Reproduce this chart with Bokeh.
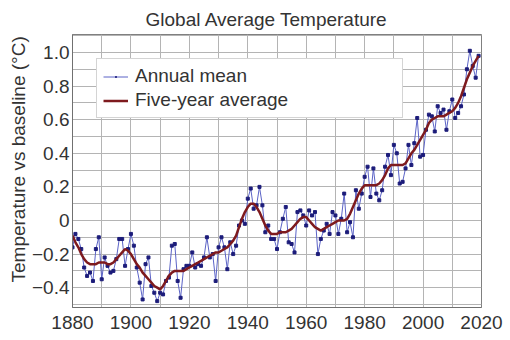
from bokeh.plotting import figure
from bokeh.models import (Range1d, FixedTicker, SingleIntervalTicker, Legend, LegendItem, Title)
from bokeh.embed import file_html
from bokeh.resources import INLINE

# ---- data ----
years = list(range(1880, 2020))

annual_mean = [
    -0.16, -0.08, -0.11, -0.17, -0.28, -0.33, -0.31, -0.36, -0.17, -0.10,
    -0.35, -0.22, -0.27, -0.31, -0.30, -0.23, -0.11, -0.11, -0.27, -0.17,
    -0.08, -0.15, -0.28, -0.37, -0.47, -0.26, -0.22, -0.39, -0.43, -0.48,
    -0.43, -0.44, -0.36, -0.34, -0.15, -0.14, -0.36, -0.46, -0.29, -0.27,
    -0.27, -0.19, -0.28, -0.26, -0.27, -0.22, -0.10, -0.22, -0.20, -0.36,
    -0.16, -0.10, -0.16, -0.29, -0.13, -0.20, -0.15, -0.03, -0.00, -0.02,
    0.13, 0.19, 0.07, 0.09, 0.20, 0.09, -0.07, -0.03, -0.11, -0.11,
    -0.17, -0.07, 0.01, 0.08, -0.13, -0.14, -0.19, 0.05, 0.06, 0.03,
    -0.03, 0.06, 0.03, 0.05, -0.20, -0.11, -0.06, -0.02, -0.08, 0.05,
    0.03, -0.08, 0.01, 0.16, -0.07, -0.01, -0.10, 0.18, 0.07, 0.16,
    0.26, 0.32, 0.14, 0.31, 0.16, 0.12, 0.18, 0.32, 0.39, 0.27,
    0.45, 0.40, 0.22, 0.23, 0.31, 0.45, 0.33, 0.46, 0.61, 0.38,
    0.39, 0.54, 0.63, 0.62, 0.53, 0.68, 0.64, 0.66, 0.54, 0.65,
    0.72, 0.61, 0.64, 0.68, 0.75, 0.90, 1.01, 0.92, 0.85, 0.98,
]

five_year_avg = [
    -0.09, -0.13, -0.16, -0.20, -0.23, -0.25, -0.26, -0.26, -0.26, -0.25,
    -0.25, -0.25, -0.26, -0.26, -0.25, -0.23, -0.21, -0.19, -0.17, -0.18,
    -0.20, -0.23, -0.26, -0.28, -0.31, -0.33, -0.35, -0.37, -0.39, -0.40,
    -0.41, -0.39, -0.36, -0.33, -0.31, -0.30, -0.30, -0.30, -0.30, -0.29,
    -0.28, -0.27, -0.26, -0.25, -0.24, -0.23, -0.22, -0.21, -0.20, -0.19,
    -0.19, -0.18, -0.17, -0.16, -0.14, -0.12, -0.09, -0.04, 0.01, 0.05,
    0.08, 0.10, 0.10, 0.08, 0.05, 0.01, -0.03, -0.06, -0.08, -0.08,
    -0.08, -0.07, -0.07, -0.07, -0.06, -0.05, -0.03, -0.01, 0.01, 0.02,
    0.02, 0.00, -0.02, -0.04, -0.05, -0.06, -0.05, -0.04, -0.03, -0.02,
    -0.01, 0.00, 0.00, 0.00, 0.01, 0.04, 0.08, 0.12, 0.16, 0.19,
    0.21, 0.21, 0.21, 0.21, 0.21, 0.22, 0.24, 0.27, 0.31, 0.33,
    0.33, 0.33, 0.33, 0.33, 0.34, 0.37, 0.40, 0.42, 0.45, 0.48,
    0.51, 0.54, 0.58, 0.60, 0.61, 0.62, 0.62, 0.62, 0.63, 0.64,
    0.65, 0.67, 0.70, 0.74, 0.79, 0.84, 0.88, 0.92, 0.95, 0.98,
]

x_ticks = [1880, 1900, 1920, 1940, 1960, 1980, 2000, 2020]
y_ticks = [-0.4, -0.2, 0.0, 0.2, 0.4, 0.6, 0.8, 1.0]
y_tick_labels = ["\u22120.4", "\u22120.2", "0", "0.2", "0.4", "0.6", "0.8", "1.0"]

FONT = "Liberation Sans"
TEXT = "#333333"
BLUE_LINE = "#5b63c6"
BLUE_DOT = "#1c1c7a"
RED = "#7e1a1e"

p = figure(width=510, height=340, output_backend="svg", toolbar_location=None,
           x_range=Range1d(1880, 2020), y_range=Range1d(-0.518, 1.107),
           min_border_left=72, min_border_right=29, min_border_top=34, min_border_bottom=33,
           background_fill_color="white", border_fill_color="white",
           outline_line_color="#808080", outline_line_width=1)

p.title = Title(text="Global Average Temperature", align="left", offset=73,
                vertical_align="top",
                text_font=FONT, text_font_size="19px", text_font_style="normal",
                text_color=TEXT, standoff=6)

# grid: every 10 years, every 0.1 degrees
p.xgrid.ticker = SingleIntervalTicker(interval=10)
p.ygrid.ticker = SingleIntervalTicker(interval=0.1)
for g in (p.xgrid, p.ygrid):
    g.grid_line_color = "#b4b4b4"
    g.grid_line_width = 1

p.xaxis.ticker = FixedTicker(ticks=x_ticks)
p.yaxis.ticker = FixedTicker(ticks=y_ticks)
p.yaxis.major_label_overrides = {t: l for t, l in zip(y_ticks, y_tick_labels)}
for ax in (p.xaxis, p.yaxis):
    ax.axis_line_color = "#707070"
    ax.major_tick_line_color = None
    ax.minor_tick_line_color = None
    ax.major_tick_out = 0
    ax.major_tick_in = 0
    ax.major_label_text_font = FONT
    ax.major_label_text_font_size = "19px"
    ax.major_label_text_color = TEXT
p.xaxis.major_label_standoff = 8
p.yaxis.major_label_standoff = 3

p.add_layout(Title(text="Temperature vs baseline (\u00b0C)", align="left", offset=25,
                   text_font=FONT, text_font_size="19px", text_font_style="normal",
                   text_color=TEXT, standoff=0), "left")

annual_line = p.line(years, annual_mean, line_color=BLUE_LINE, line_width=1)
# tiny centre dots (hidden under the squares in the plot, used as legend swatch)
annual_dot = p.scatter(years, annual_mean, marker="dot", size=3,
                       fill_color=BLUE_DOT, line_color=BLUE_DOT, line_width=1.5)
p.scatter(years, annual_mean, marker="square", size=3,
          fill_color=BLUE_DOT, line_color=BLUE_DOT)
avg_line = p.line(years, five_year_avg, line_color=RED, line_width=2.5)

legend = Legend(items=[LegendItem(label="Annual mean", renderers=[annual_line, annual_dot]),
                       LegendItem(label="Five-year average", renderers=[avg_line])],
                location="top_left", margin=24, padding=6, spacing=2,
                glyph_width=25, glyph_height=21, label_height=21, label_standoff=7,
                label_width=261,
                label_text_font=FONT, label_text_font_size="19px", label_text_color=TEXT,
                border_line_color="#aaaaaa", border_line_width=1,
                background_fill_color="white", background_fill_alpha=1.0)
p.add_layout(legend, "center")

open("out.html", "w").write(file_html(p, INLINE))
